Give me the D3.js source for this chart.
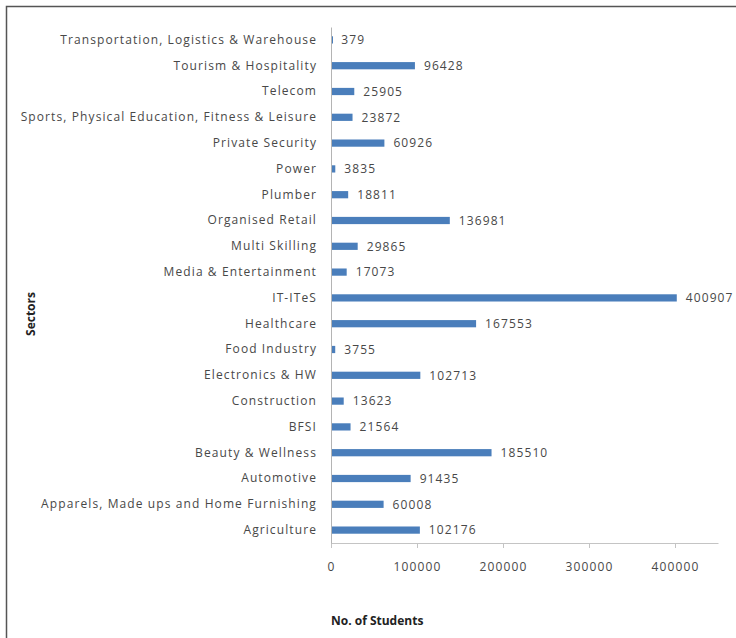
<!DOCTYPE html>
<html>
<head>
<meta charset="utf-8">
<script src="https://cdn.jsdelivr.net/npm/d3@7"></script>
<style>
  body { margin: 0; background: #fff; }
  svg { display: block; }
  .cat text, .val, .x.axis text { font-family: "Open Sans", sans-serif; font-size: 12px; fill: #484848; letter-spacing: 1.1px; }
  .axis-title { font-family: "Open Sans", sans-serif; font-size: 12px; font-weight: bold; fill: #222; }
</style>
</head>
<body>
<div id="chart"></div>
<script>
// categories top to bottom
var sectors = [
    "Transportation, Logistics & Warehouse",
    "Tourism & Hospitality",
    "Telecom",
    "Sports, Physical Education, Fitness & Leisure",
    "Private Security",
    "Power",
    "Plumber",
    "Organised Retail",
    "Multi Skilling",
    "Media & Entertainment",
    "IT-ITeS",
    "Healthcare",
    "Food Industry",
    "Electronics & HW",
    "Construction",
    "BFSI",
    "Beauty & Wellness",
    "Automotive",
    "Apparels, Made ups and Home Furnishing",
    "Agriculture"
];
var students = [379, 96428, 25905, 23872, 60926, 3835, 18811, 136981, 29865, 17073,
                400907, 167553, 3755, 102713, 13623, 21564, 185510, 91435, 60008, 102176];
var xTicks = [0, 100000, 200000, 300000, 400000];
var xMax = 450000;

var W = 736, H = 638;
var chart_left = 331, chart_right = 718, chart_top = 27, chart_bottom = 543;

var svg = d3.select("#chart").append("svg")
    .attr("width", W)
    .attr("height", H);

// frame (top and left edges only visible)
svg.append("path")
    .attr("d", "M6.5," + H + "V6.5H" + W)
    .attr("fill", "none")
    .attr("stroke", "#555")
    .attr("stroke-width", 1.5);

var x = d3.scaleLinear()
    .domain([0, xMax])
    .range([chart_left, chart_right]);

var y = d3.scaleBand()
    .domain(sectors)
    .range([chart_top, chart_bottom])
    .paddingInner(0.72)
    .paddingOuter(0.36);

// X-Axis
var x_axis = svg.append("g")
    .attr("class", "x axis")
    .attr("transform", "translate(0," + chart_bottom + ")")
    .call(d3.axisBottom(x).tickValues(xTicks).tickFormat(d3.format("d")).tickSize(5).tickSizeOuter(0).tickPadding(14));
x_axis.select(".domain").attr("stroke", "#c4c4c4");
x_axis.selectAll(".tick line").attr("stroke", "#c4c4c4");

// Y-Axis
var y_axis = svg.append("g")
    .attr("class", "cat")
    .attr("transform", "translate(" + chart_left + ",0)")
    .call(d3.axisLeft(y).tickSize(0).tickPadding(14));
y_axis.select(".domain").attr("stroke", "#b4b4b4");

// bars
svg.selectAll(".bar")
    .data(sectors)
    .enter()
  .append("rect")
    .attr("class", "bar")
    .attr("x", chart_left + 1)
    .attr("y", function(d) { return y(d); })
    .attr("height", y.bandwidth())
    .attr("width", function(d, i) { return Math.max(1, x(students[i]) - chart_left); })
    .attr("fill", "#4a7ebb");

// value labels
svg.selectAll(".val")
    .data(sectors)
    .enter()
  .append("text")
    .attr("class", "val")
    .attr("x", function(d, i) { return x(students[i]) + 10; })
    .attr("y", function(d) { return y(d) + y.bandwidth() / 2; })
    .attr("dy", "0.35em")
    .text(function(d, i) { return students[i]; });

// axis titles
svg.append("text")
    .attr("class", "axis-title")
    .attr("transform", "translate(35,314) rotate(-90)")
    .attr("text-anchor", "middle")
    .text("Sectors");

svg.append("text")
    .attr("class", "axis-title")
    .attr("x", chart_left)
    .attr("y", 625)
    .text("No. of Students");
</script>
</body>
</html>
